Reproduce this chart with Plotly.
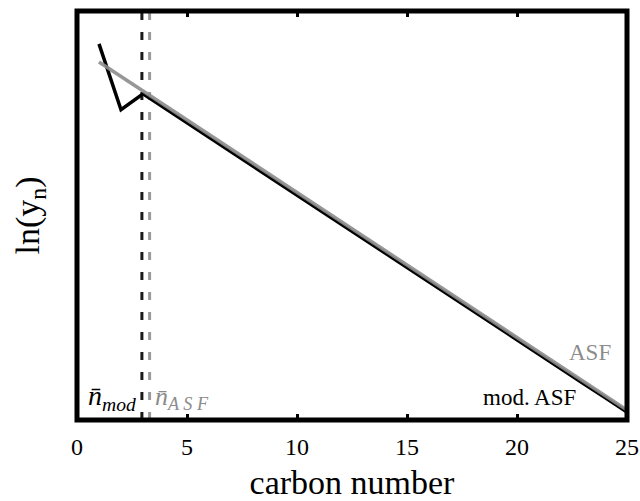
import plotly.graph_objects as go

# ---- data ----
carbon_number = list(range(1, 26))
ln_asf = [17.51, 16.80, 16.09, 15.38, 14.67, 13.96, 13.26, 12.55, 11.84, 11.13,
          10.42, 9.71, 9.00, 8.29, 7.58, 6.87, 6.17, 5.46, 4.75, 4.04,
          3.33, 2.62, 1.91, 1.20, 0.49]
ln_mod_asf = [18.39, 15.17, 15.95, 15.24, 14.54, 13.83, 13.12, 12.41, 11.71, 11.00,
              10.29, 9.58, 8.88, 8.17, 7.46, 6.76, 6.05, 5.34, 4.63, 3.93,
              3.22, 2.51, 1.80, 1.10, 0.39]
n_mod = 2.95
n_asf = 3.3
x_ticks = [0, 5, 10, 15, 20, 25]
x_tick_labels = ["0", "5", "10", "15", "20", "25"]
x_range = [0, 25]
y_range = [0, 20]

SERIF = "Liberation Serif, Times New Roman, DejaVu Serif, serif"
GRAY = "#8c8c8c"

fig = go.Figure()

# vertical dashed markers
fig.add_trace(go.Scatter(x=[n_mod, n_mod], y=y_range, mode="lines",
                         line=dict(color="#1a1a1a", width=3, dash="8px,12px"),
                         showlegend=False, hoverinfo="skip"))
fig.add_trace(go.Scatter(x=[n_asf, n_asf], y=y_range, mode="lines",
                         line=dict(color="#9a9a9a", width=3, dash="8px,12px"),
                         showlegend=False, hoverinfo="skip"))

fig.add_trace(go.Scatter(x=carbon_number, y=ln_mod_asf, mode="lines",
                         line=dict(color="black", width=3.5),
                         name="mod. ASF", showlegend=False))
fig.add_trace(go.Scatter(x=carbon_number, y=ln_asf, mode="lines",
                         line=dict(color=GRAY, width=3.5),
                         name="ASF", showlegend=False, opacity=0.9))

fig.add_shape(type="rect", xref="paper", yref="paper", x0=0, x1=1, y0=0, y1=1,
              line=dict(color="black", width=5), layer="above")

fig.add_annotation(x=24.35, y=3.3, text="ASF", showarrow=False, xanchor="right",
                   font=dict(family=SERIF, size=23, color=GRAY))
fig.add_annotation(x=22.75, y=1.12, text="mod. ASF", showarrow=False, xanchor="right",
                   font=dict(family=SERIF, size=23, color="black"))
fig.add_annotation(x=1.6, y=1.1, text="<i>n̄</i><sub><i>mod</i></sub>", showarrow=False,
                   font=dict(family=SERIF, size=28, color="black"))
fig.add_annotation(x=4.75, y=1.1, text="<i>n̄</i><sub><i>A S F</i></sub>", showarrow=False,
                   font=dict(family=SERIF, size=26, color=GRAY))

fig.update_layout(
    width=640, height=501,
    margin=dict(l=77, r=13, t=11, b=81),
    paper_bgcolor="white", plot_bgcolor="white",
    font=dict(family=SERIF, color="black"),
    xaxis=dict(range=x_range, tickvals=x_ticks, ticktext=x_tick_labels,
               ticks="inside", ticklen=6, tickwidth=3, tickcolor="black",
               mirror="ticks", showgrid=False, zeroline=False, showline=False,
               ticklabelstandoff=10, automargin=False,
               tickfont=dict(family=SERIF, size=24),
               title=dict(text="carbon number", font=dict(family=SERIF, size=34), standoff=14)),
    yaxis=dict(range=y_range, showticklabels=False, ticks="", showgrid=False,
               zeroline=False, showline=False, automargin=False,
               title=dict(text="ln(y<sub>n</sub>)", font=dict(family=SERIF, size=34), standoff=26)),
)

fig.write_html("out.html")
